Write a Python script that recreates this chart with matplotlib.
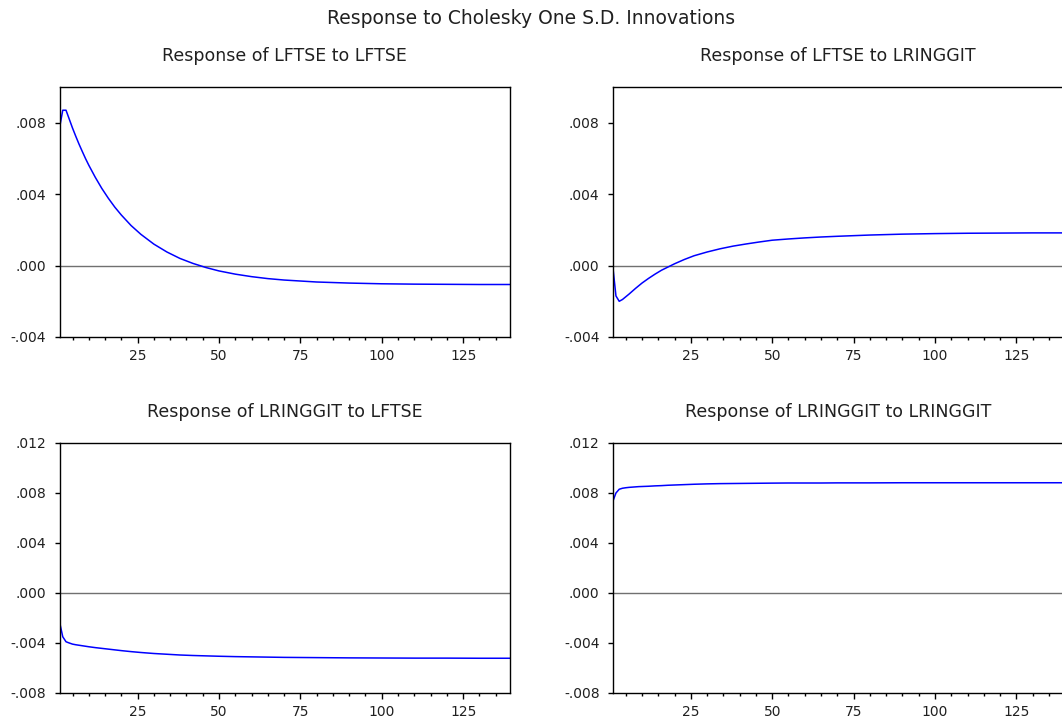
import matplotlib
matplotlib.use("Agg")
import matplotlib.pyplot as plt
from matplotlib.ticker import FuncFormatter, MultipleLocator

# EViews text looks wide, DejaVu Sans matches its proportions best
plt.rcParams['font.family'] = ['DejaVu Sans']

# impulse response periods and values
periods = [1, 2, 3, 4, 5, 6, 7, 8, 9, 10, 12, 14, 16, 18, 20, 23, 26, 30, 34, 38,
           42, 46, 50, 55, 60, 65, 70, 80, 90, 100, 110, 120, 130, 140]

lftse_to_lftse = [0.0077, 0.0087, 0.0087, 0.0082, 0.0077, 0.00724, 0.00680, 0.00639,
                  0.00599, 0.00562, 0.00494, 0.00432, 0.00377, 0.00327, 0.00283,
                  0.00224, 0.00175, 0.00120, 0.00076, 0.00040, 0.00012, -0.00011,
                  -0.00030, -0.00048, -0.00062, -0.00073, -0.00081, -0.00092,
                  -0.00098, -0.00102, -0.00104, -0.00105, -0.00106, -0.00106]

lftse_to_lringgit = [0.0, -0.0017, -0.0020, -0.0019, -0.00175, -0.0016, -0.00144,
                     -0.00128, -0.00113, -0.00098, -0.00072, -0.00048, -0.00026,
                     -0.00008, 0.00010, 0.00034, 0.00055, 0.00076, 0.00094, 0.00109,
                     0.00121, 0.00132, 0.00142, 0.00149, 0.00155, 0.00160, 0.00164,
                     0.00171, 0.00176, 0.00179, 0.00181, 0.00182, 0.00183, 0.00183]

lringgit_to_lftse = [-0.0023, -0.0035, -0.0039, -0.0040, -0.00409, -0.00414, -0.00418,
                     -0.00422, -0.00426, -0.00430, -0.00437, -0.00443, -0.00449,
                     -0.00455, -0.00461, -0.00469, -0.00476, -0.00484, -0.00490,
                     -0.00496, -0.00500, -0.00503, -0.00506, -0.00509, -0.00511,
                     -0.00513, -0.00515, -0.00517, -0.00519, -0.00520, -0.00521,
                     -0.00521, -0.00522, -0.00522]

lringgit_to_lringgit = [0.0073, 0.0080, 0.0083, 0.00838, 0.00842, 0.00845, 0.00847,
                        0.00849, 0.00851, 0.00852, 0.00854, 0.00857, 0.00859, 0.00862,
                        0.00864, 0.00867, 0.00870, 0.00873, 0.00875, 0.00876, 0.00877,
                        0.00878, 0.00879, 0.00880, 0.00880, 0.00880, 0.00881, 0.00881,
                        0.00882, 0.00882, 0.00882, 0.00882, 0.00882, 0.00882]

titles = ["Response of LFTSE to LFTSE", "Response of LFTSE to LRINGGIT",
          "Response of LRINGGIT to LFTSE", "Response of LRINGGIT to LRINGGIT"]
series = [lftse_to_lftse, lftse_to_lringgit, lringgit_to_lftse, lringgit_to_lringgit]
ylims = [(-0.004, 0.010), (-0.004, 0.010), (-0.008, 0.012), (-0.008, 0.012)]

W, H = 1062, 720
fig = plt.figure(figsize=(W / 100, H / 100), dpi=100)

# axes boxes in pixels: left, top, right, bottom
boxes = [(59.5, 87, 510, 337), (612.7, 87, 1063.2, 337),
         (59.5, 443, 510, 693), (612.7, 443, 1063.2, 693)]


def fmt(v, pos):
    s = f"{v:.3f}"
    return s.replace("0.", ".", 1)


for box, title, vals, yl in zip(boxes, titles, series, ylims):
    l, t, r, b = box
    ax = fig.add_axes([l / W, 1 - b / H, (r - l) / W, (b - t) / H])
    ax.axhline(0, color='#707070', lw=1.0, zorder=1)
    ax.plot(periods, vals, color='#0000ff', lw=1.1, zorder=2)
    ax.set_xlim(1, 139.4)
    ax.set_ylim(*yl)
    ax.xaxis.set_major_locator(MultipleLocator(25))
    ax.xaxis.set_minor_locator(MultipleLocator(5))
    ax.yaxis.set_major_locator(MultipleLocator(0.004))
    ax.yaxis.set_major_formatter(FuncFormatter(fmt))
    ax.tick_params(axis='x', which='major', direction='out', length=4.5, width=1,
                   pad=4, labelsize=10, labelcolor='#202020')
    ax.tick_params(axis='x', which='minor', direction='out', length=2.5, width=1)
    ax.tick_params(axis='y', direction='out', length=3.5, width=1, pad=6,
                   labelsize=10, labelcolor='#202020')
    for sp in ax.spines.values():
        sp.set_linewidth(1.0)
    ax.set_title(title, fontsize=12.5, pad=19, color='#202020')

fig.suptitle("Response to Cholesky One S.D. Innovations", fontsize=13.5, y=0.988,
             color='#202020')

fig.savefig("out.png", dpi=100)
